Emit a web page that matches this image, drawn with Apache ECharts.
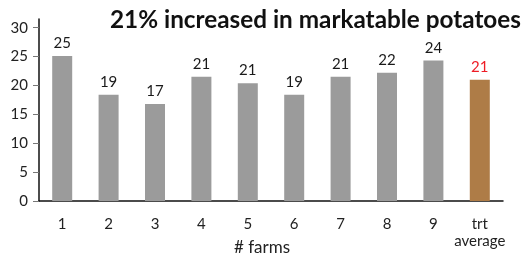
<!DOCTYPE html>
<html><head><meta charset="utf-8">
<script src="https://cdn.jsdelivr.net/npm/echarts@6/dist/echarts.min.js"></script>
<style>html,body{margin:0;padding:0;background:#fff}#c{width:523px;height:256px}</style>
</head><body><div id="c"></div>
<script>
const categories = ['1','2','3','4','5','6','7','8','9','trt\naverage'];
const values = [25.1, 18.4, 16.8, 21.5, 20.4, 18.4, 21.5, 22.2, 24.3, 21.0];
const valueLabels = ['25','19','17','21','21','19','21','22','24','21'];
const yTicks = [0,5,10,15,20,25,30];
const titleText = '21% increased in markatable potatoes';
const xName = '# farms';

const FONT = 'Lato';
const chart = echarts.init(document.getElementById('c'), null, {renderer:'canvas'});
const data = values.map((v,i)=>{
  const last = i === values.length-1;
  return {
    value: v,
    itemStyle: {color: last ? '#ae7c47' : '#9b9b9b'},
    label: {show:true, position:'top', distance:5, formatter: valueLabels[i],
      color: last ? '#ee1c25' : '#1a1a1a', fontFamily: FONT, fontSize: 15}
  };
});
chart.setOption({
  animation:false,
  title:{text:titleText, left:105, top:3,
    textStyle:{fontFamily:FONT, fontWeight:'bold', fontSize:24.3, color:'#111'}},
  grid:{left:39, right:20, top:19, bottom:55, containLabel:false, outerBoundsMode:'none'},
  xAxis:{type:'category', data:categories,
    axisLine:{lineStyle:{color:'#111', width:1.5}},
    axisTick:{show:false},
    axisLabel:{interval:0, fontFamily:FONT, fontSize:15, color:'#222', margin:15, lineHeight:17},
    name:xName, nameLocation:'middle', nameGap:38, nameMoveOverlap:false,
    nameTextStyle:{fontFamily:FONT, fontSize:17, color:'#222', padding:[0,18,0,0]}
  },
  yAxis:{type:'value', min:0, max:31.5,
    splitLine:{show:false},
    axisLine:{show:true, lineStyle:{color:'#111', width:1.5}},
    axisTick:{show:true, length:6, lineStyle:{color:'#777'}, customValues:yTicks},
    axisLabel:{fontFamily:FONT, fontSize:15, color:'#222', margin:11, customValues:yTicks}
  },
  series:[{type:'bar', data:data, barWidth:20}]
});
</script></body></html>
